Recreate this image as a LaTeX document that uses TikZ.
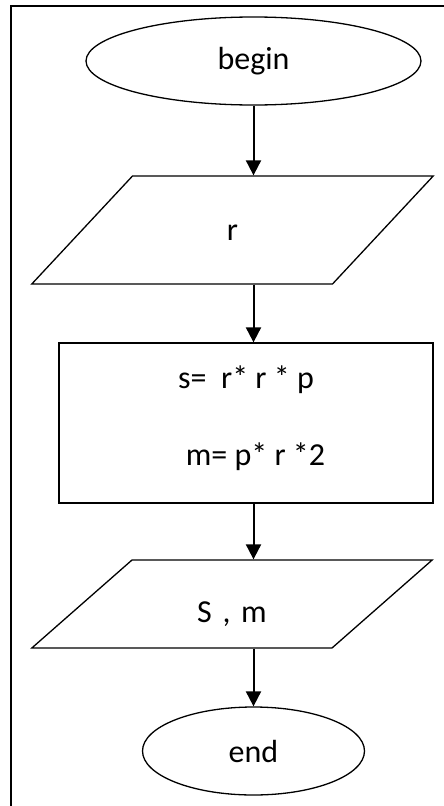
\documentclass[tikz,border=0pt]{standalone}
\usepackage{fontspec}
\setmainfont{Carlito}
\usetikzlibrary{shapes.geometric,arrows.meta}

\tikzset{
	terminal/.style={draw,ellipse,line width=1.3pt,inner sep=0pt,minimum height=88pt},
	io/.style={draw,trapezium,trapezium stretches=false,line width=1.3pt,text width=120pt,align=center,
		inner xsep=40pt,inner ysep=#1},
	proc/.style={draw,rectangle,line width=1.3pt,inner sep=0pt,minimum width=374pt,minimum height=160pt,align=center},
	flow/.style={line width=2pt,-{Triangle[width=15pt,length=15pt]}}
}

\begin{document}
\begin{tikzpicture}[x=1pt,y=-1pt,font=\fontsize{32}{38}\selectfont]
	\useasboundingbox (0,0) rectangle (444,806);
	%frame
	\draw[line width=2pt] (11,806)--(11,6)--(444,6);

	%blocks
	\node[terminal,minimum width=335pt] (start) at (253.5,61) {begin};
	\node[io=40pt,text height=24pt,text depth=4pt,trapezium left angle=47,trapezium right angle=133] (r) at (232.5,230) {r};
	\node[proc,text depth=15pt] (calc) at (246,423) {s=\ \ r* r * p\\[39pt]\hspace*{19pt}m= p* r *2};
	\node[io=26pt,text height=36pt,text depth=0pt,trapezium left angle=41.3,trapezium right angle=138.7] (out) at (232,604) {S\ , m};
	\node[terminal,minimum width=222pt] (stop) at (253.5,751) {end};

	%arrows
	\draw[flow] (start.south)--(start.south |- r.north);
	\draw[flow] (r.south -| start)--(calc.north -| start);
	\draw[flow] (calc.south -| start)--(out.north -| start);
	\draw[flow] (out.south -| start)--(stop.north);
\end{tikzpicture}
\end{document}
